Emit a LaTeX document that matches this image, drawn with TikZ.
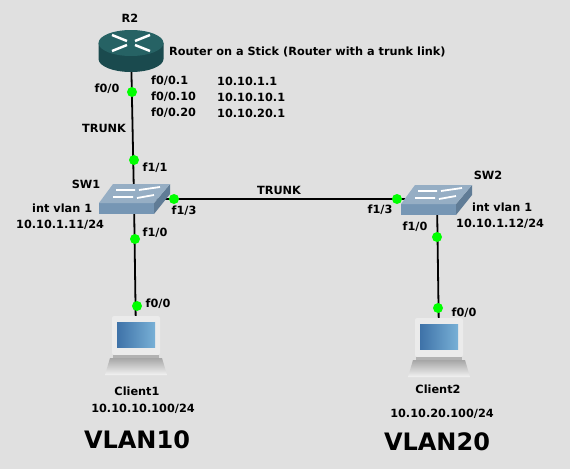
\documentclass[tikz,border=0pt]{standalone}
\usepackage{fontspec}
\setmainfont{DejaVu Sans}
\usepackage{xcolor}
\usetikzlibrary{positioning, calc}
\definecolor{netback}{RGB}{224, 224, 224}
\definecolor{routertop}{RGB}{38, 98, 100}
\definecolor{routerside}{RGB}{26, 74, 78}
\definecolor{swtop}{RGB}{150, 174, 196}
\definecolor{swfront}{RGB}{118, 150, 180}
\definecolor{swside}{RGB}{96, 124, 150}
\definecolor{linkdot}{RGB}{0, 255, 0}
\definecolor{screenblue}{RGB}{62, 114, 168}
\definecolor{screenlight}{RGB}{120, 176, 214}
\tikzset{
    label/.style={font=\bfseries\fontsize{11.3}{13}\selectfont, inner sep=0pt, text=black},
    vlan/.style={font=\bfseries\fontsize{24}{28}\selectfont, inner sep=0pt, text=black},
    portdot/.style={circle, fill=linkdot, inner sep=0pt, minimum size=10pt},
    device/.style={inner sep=0pt, outer sep=0pt},
    link/.style={line width=1.8pt, black}
}
\begin{document}
\begin{tikzpicture}[x=1pt, y=-1pt]
    % Background
    \fill[netback] (0,0) rectangle (570,469);

    % Devices
    \node[device] (r2) at (131,50) {};
    \node[device] (sw1) at (134,199) {};
    \node[device] (sw2) at (437,199) {};
    \node[device] (client1) at (136,340) {};
    \node[device] (client2) at (439,342) {};

    % Links
    \draw[link] (r2) -- (sw1);
    \draw[link] (sw1) -- (sw2);
    \draw[link] (sw1) -- (client1);
    \draw[link] (sw2) -- (client2);

    % Router
    \fill[routerside] (98.5,43) -- (98.5,59) arc[start angle=180, end angle=0, x radius=32.5, y radius=13] -- (163.5,43) -- cycle;
    \fill[routertop] (131,43) ellipse[x radius=32.5, y radius=13];
    \draw[white, line width=2.5pt] (112,35) -- (127,41) (150,35) -- (135,41) (112,51) -- (127,45) (150,51) -- (135,45);

    % Switches
    \foreach \dx/\dy in {0/0, 302/1} {
        \begin{scope}[shift={(\dx,\dy)}]
            \fill[swfront] (99,203) rectangle (154,214);
            \fill[swside] (154,203) -- (170,184) -- (170,194) -- (154,214) -- cycle;
            \fill[swtop] (99,203) -- (113,184) -- (170,184) -- (154,203) -- cycle;
            \draw[white, line width=1.8pt] (116,190) -- (135,190) (139,190) -- (160,187) (113,197) -- (133,197) (137,198) -- (154,195);
        \end{scope}
    }

    % Clients
    \foreach \dx/\dy in {0/0, 303/2} {
        \begin{scope}[shift={(\dx,\dy)}]
            \fill[black!8, rounded corners=2pt] (112,316) rectangle (160,355);
            \shade[left color=screenblue, right color=screenlight] (117,322) rectangle (155,347);
            \fill[black!30] (113,355) rectangle (159,358);
            \shade[top color=black!35, bottom color=black!5] (110,358) -- (162,358) -- (167,375) -- (105,375) -- cycle;
        \end{scope}
    }

    % Port dots
    \node[portdot] (r2p) at (132,92) {};
    \node[portdot] (sw1up) at (134,160) {};
    \node[portdot] (sw1right) at (174,199) {};
    \node[portdot] (sw2left) at (397,199) {};
    \node[portdot] (sw1down) at (135,239) {};
    \node[portdot] (sw2down) at (437,237) {};
    \node[portdot] (client1p) at (137,306) {};
    \node[portdot] (client2p) at (438,308) {};

    % Labels
    \node[label] (r2name) at (130,18) {R2};
    \node[label, anchor=west] (stick) at (169,52) {Router on a Stick (Router with a trunk link)};
    \node[label, anchor=west] (sub1) at (151,81) {f0/0.1};
    \node[label, anchor=west] (sub2) at (151,97) {f0/0.10};
    \node[label, anchor=west] (sub3) at (151,113) {f0/0.20};
    \node[label, anchor=west] (ip1) at (217,81) {10.10.1.1};
    \node[label, anchor=west] (ip2) at (217,97) {10.10.10.1};
    \node[label, anchor=west] (ip3) at (217,113) {10.10.20.1};
    \node[label] (r2f) at (107,89) {f0/0};
    \node[label] (trunk1) at (104,128) {TRUNK};
    \node[label] (sw1f1) at (155,168) {f1/1};
    \node[label] (sw1name) at (86,184) {SW1};
    \node[label] (sw1f3) at (184,211) {f1/3};
    \node[label] (trunk2) at (279,190) {TRUNK};
    \node[label] (sw2f3) at (380,210) {f1/3};
    \node[label] (sw2name) at (488,175) {SW2};
    \node[label, anchor=west] (vlan1a) at (32,208) {int vlan 1};
    \node[label, anchor=west] (vlan1b) at (16,225) {10.10.1.11/24};
    \node[label, anchor=west] (vlan1c) at (472,207) {int vlan 1};
    \node[label, anchor=west] (vlan1d) at (456,224) {10.10.1.12/24};
    \node[label] (sw1f0) at (155,233) {f1/0};
    \node[label] (sw2f0) at (415,227) {f1/0};
    \node[label] (c1f) at (158,304) {f0/0};
    \node[label] (c2f) at (464,313) {f0/0};
    \node[label] (c1name) at (137,391) {Client1};
    \node[label] (c2name) at (438,389) {Client2};
    \node[label] (c1ip) at (143,409) {10.10.10.100/24};
    \node[label] (c2ip) at (442,414) {10.10.20.100/24};
    \node[vlan] (v10) at (137,440) {VLAN10};
    \node[vlan] (v20) at (437,442) {VLAN20};
\end{tikzpicture}
\end{document}
